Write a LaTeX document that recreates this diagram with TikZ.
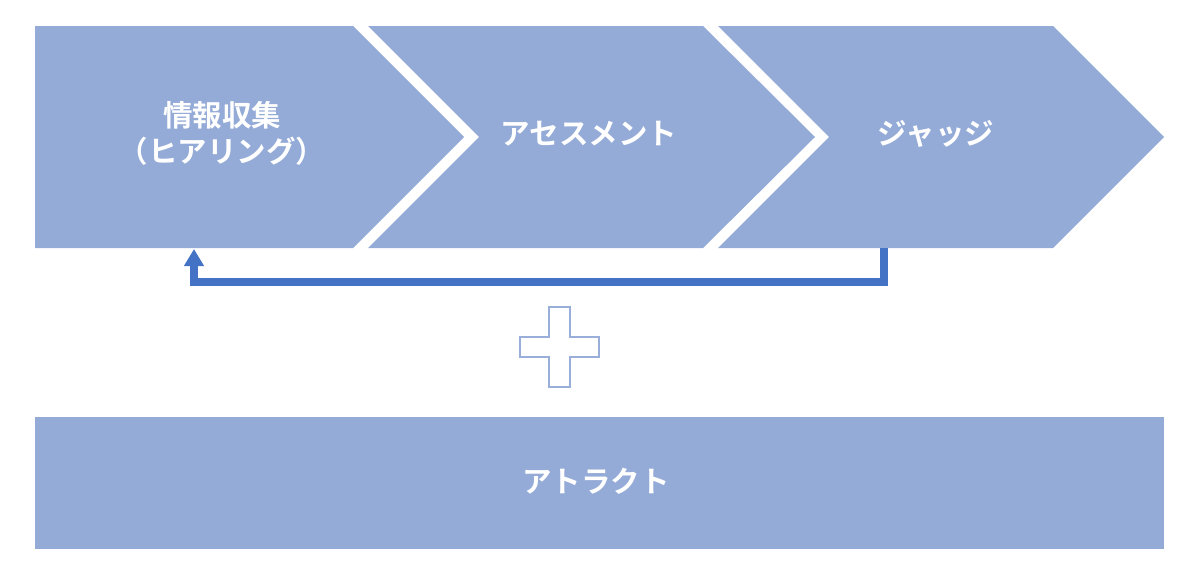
\documentclass[tikz,border=0pt]{standalone}
\usepackage{fontspec}
\setmainfont{Noto Sans CJK JP Bold}
\usetikzlibrary{arrows.meta}
\definecolor{boxfill}{HTML}{94AAD7}
\definecolor{arrowblue}{HTML}{4472C4}
\definecolor{plusline}{HTML}{9AAEDA}
\tikzset{
  shapebox/.style={fill=boxfill, draw=none},
  lbl/.style={text=white, font=\fontsize{29.5}{36}\selectfont, align=center, inner sep=0pt},
  loopline/.style={draw=arrowblue, line width=7.5pt, -{Triangle[width=19pt,length=17pt]}},
  plusshape/.style={draw=plusline, line width=1.3pt, fill=white}
}
\begin{document}
\begin{tikzpicture}[x=1pt,y=-1pt]
\useasboundingbox (0,0) rectangle (1200,581);
% chevrons
\fill[shapebox] (35,26) -- (353,26) -- (464,137) -- (353,248) -- (35,248) -- cycle;
\fill[shapebox] (368,26) -- (703,26) -- (815,137) -- (703,248) -- (368,248) -- (479,137) -- cycle;
\fill[shapebox] (718,26) -- (1053,26) -- (1164,137) -- (1053,248) -- (718,248) -- (829,137) -- cycle;
% bottom bar
\fill[shapebox] (35,417) rectangle (1164,549);
% labels
\node[lbl] (info) at (222,133) {情報収集\\（ヒアリング）};
\node[lbl] (assess) at (589,134) {アセスメント};
\node[lbl] (judge) at (936,134) {ジャッジ};
\node[lbl] (attract) at (596,481) {アトラクト};
% feedback arrow
\coordinate (jbot) at (884,248);
\coordinate (ibot) at (194,249);
\draw[loopline] (jbot) -- (884,282) -- (194,282) -- (ibot);
% plus sign
\draw[plusshape] (549,307) -- (570,307) -- (570,337) -- (599,337) -- (599,357) -- (570,357) -- (570,387) -- (549,387) -- (549,357) -- (520,357) -- (520,337) -- (549,337) -- cycle;
\end{tikzpicture}
\end{document}
